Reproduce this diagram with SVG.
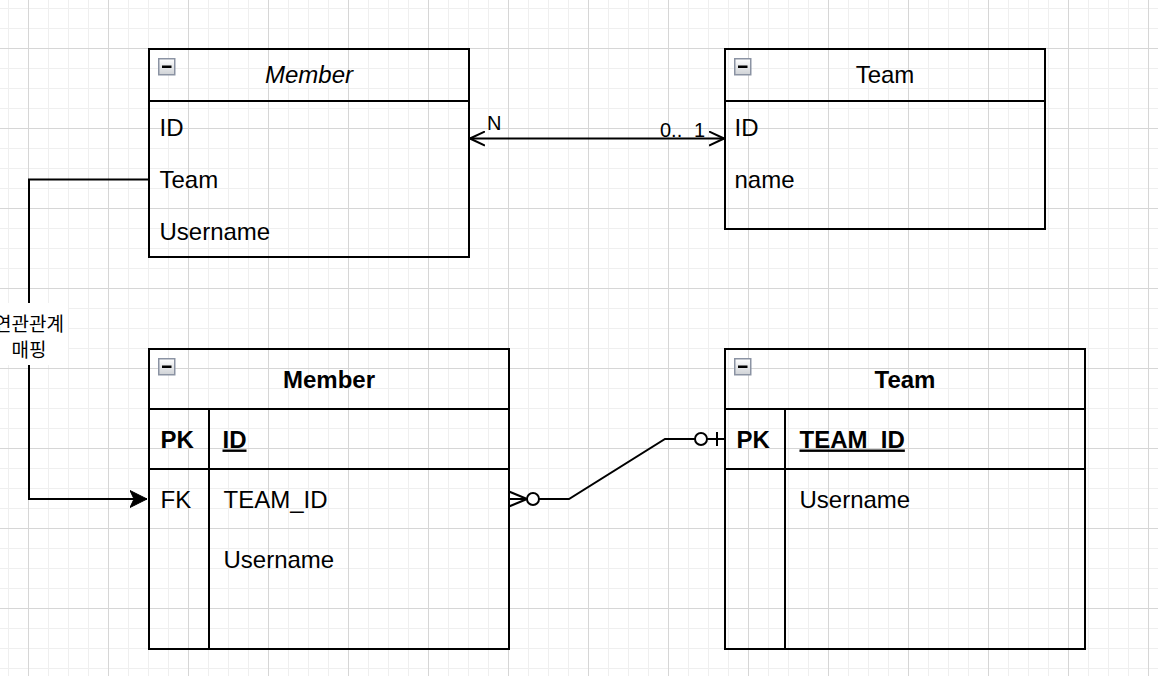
<svg xmlns="http://www.w3.org/2000/svg" width="1158" height="676" viewBox="0 0 1158 676">
<style>
.box{fill:none;stroke:#000;stroke-width:2}
.ln{fill:none;stroke:#000;stroke-width:2}
.t{font-family:"Liberation Sans",Arial,sans-serif;font-size:24px;fill:#000}
.hdr{text-anchor:middle}
.b{font-weight:bold}
.u{text-decoration:underline}
.lbl{font-family:"Liberation Sans",Arial,sans-serif;font-size:20px;fill:#000}
.kr{font-family:"Liberation Sans","Noto Sans CJK KR",sans-serif;font-size:19px;fill:#000;text-anchor:middle}
</style>
<defs>
<pattern id="grid" patternUnits="userSpaceOnUse" x="28" y="48" width="80" height="80">
<rect x="0" y="0" width="80" height="80" fill="#fff"/>
<rect x="20" y="0" width="1" height="80" fill="#efefef"/>
<rect x="40" y="0" width="1" height="80" fill="#efefef"/>
<rect x="60" y="0" width="1" height="80" fill="#efefef"/>
<rect x="0" y="20" width="80" height="1" fill="#efefef"/>
<rect x="0" y="40" width="80" height="1" fill="#efefef"/>
<rect x="0" y="60" width="80" height="1" fill="#efefef"/>
<rect x="0" y="0" width="1" height="80" fill="#d6d6d6"/>
<rect x="0" y="0" width="80" height="1" fill="#d6d6d6"/>
</pattern>
<linearGradient id="ig" x1="0" y1="0" x2="0" y2="1">
<stop offset="0" stop-color="#ffffff"/>
<stop offset="1" stop-color="#cfd2d6"/>
</linearGradient>
<g id="collapse">
<rect x="0.75" y="0.75" width="16" height="16" fill="url(#ig)" stroke="#8b93a3" stroke-width="1.5"/>
<rect x="4" y="7.5" width="9.5" height="2.5" fill="#000"/>
</g>
<marker id="open" viewBox="0 0 16 16" refX="15" refY="8" markerWidth="16" markerHeight="16" markerUnits="userSpaceOnUse" orient="auto-start-reverse">
<path d="M0,1 L15,8 L0,15" fill="none" stroke="#000" stroke-width="2"/>
</marker>
<marker id="classic" viewBox="0 0 18 18" refX="17" refY="9" markerWidth="18" markerHeight="18" markerUnits="userSpaceOnUse" orient="auto">
<path d="M0,0.5 L17,9 L0,17.5 L4,9 Z" fill="#000" stroke="#000" stroke-width="1"/>
</marker>
</defs>
<rect x="0" y="0" width="1158" height="676" fill="url(#grid)"/>

<g id="connectors">
<line class="ln" x1="470" y1="138.5" x2="724" y2="138.5" marker-start="url(#open)" marker-end="url(#open)"/>
<text class="lbl" x="487" y="129.5">N</text>
<text class="lbl" x="660" y="136.5">0.. <tspan x="694">1</tspan></text>

<polyline class="ln" points="149,179.5 29,179.5 29,499 147,499" marker-end="url(#classic)"/>
<rect x="-10" y="303" width="78" height="62" fill="#fff"/>
<text class="kr" x="29" y="331">연관관계</text>
<text class="kr" x="29" y="357">매핑</text>

<polyline class="ln" points="509,499 527,499"/>
<line class="ln" x1="509" y1="491.5" x2="527" y2="499"/>
<line class="ln" x1="509" y1="506.5" x2="527" y2="499"/>
<circle cx="533" cy="499" r="6" fill="#fff" stroke="#000" stroke-width="2"/>
<polyline class="ln" points="539,499 569,499 665,439 695,439"/>
<circle cx="701" cy="439" r="6" fill="#fff" stroke="#000" stroke-width="2"/>
<line class="ln" x1="707" y1="439" x2="725" y2="439"/>
<line class="ln" x1="717" y1="432" x2="717" y2="446"/>
</g>

<g id="member-class">
<rect class="box" x="149" y="49" width="320" height="208"/>
<line class="ln" x1="149" y1="101" x2="469" y2="101"/>
<use href="#collapse" x="158" y="58"/>
<text class="t hdr" x="309" y="83" font-style="italic">Member</text>
<text class="t" x="159.5" y="135.5">ID</text>
<text class="t" x="159.5" y="187.5">Team</text>
<text class="t" x="159.5" y="239.5">Username</text>
</g>

<g id="team-class">
<rect class="box" x="725" y="49" width="320" height="180"/>
<line class="ln" x1="725" y1="101" x2="1045" y2="101"/>
<use href="#collapse" x="734" y="58"/>
<text class="t hdr" x="885" y="83">Team</text>
<text class="t" x="734.5" y="135.5">ID</text>
<text class="t" x="734.5" y="187.5">name</text>
</g>

<g id="member-table">
<rect class="box" x="149" y="349" width="360" height="300"/>
<line class="ln" x1="149" y1="409" x2="509" y2="409"/>
<line class="ln" x1="149" y1="469" x2="509" y2="469"/>
<line class="ln" x1="209" y1="409" x2="209" y2="649"/>
<use href="#collapse" x="158" y="358"/>
<text class="t hdr b" x="329" y="388">Member</text>
<text class="t b" x="160.5" y="447.5">PK</text>
<text class="t b u" x="222.5" y="447.5">ID</text>
<text class="t" x="160.5" y="507.5">FK</text>
<text class="t" x="223.5" y="507.5">TEAM_ID</text>
<text class="t" x="223.5" y="567.5">Username</text>
</g>

<g id="team-table">
<rect class="box" x="725" y="349" width="360" height="300"/>
<line class="ln" x1="725" y1="409" x2="1085" y2="409"/>
<line class="ln" x1="725" y1="469" x2="1085" y2="469"/>
<line class="ln" x1="785" y1="409" x2="785" y2="649"/>
<use href="#collapse" x="734" y="358"/>
<text class="t hdr b" x="905" y="388">Team</text>
<text class="t b" x="736.5" y="447.5">PK</text>
<text class="t b u" x="799.5" y="447.5">TEAM_ID</text>
<text class="t" x="799.5" y="507.5">Username</text>
</g>
</svg>
